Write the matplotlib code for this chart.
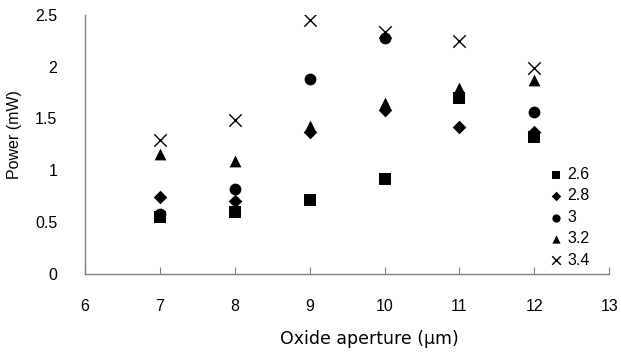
import matplotlib.pyplot as plt
import numpy as np

plt.rcParams['font.family'] = ['Liberation Sans', 'DejaVu Sans']

aperture = [7, 8, 9, 10, 11, 12]
labels = ['2.6', '2.8', '3', '3.2', '3.4']
p26 = [0.55, 0.60, 0.71, 0.92, 1.70, 1.32]
p28 = [0.74, 0.70, 1.37, 1.58, 1.42, 1.37]
p30 = [0.58, 0.82, 1.88, 2.28, np.nan, 1.56]
p32 = [1.16, 1.09, 1.43, 1.65, 1.79, 1.87]
p34 = [1.29, 1.49, 2.45, 2.33, 2.25, 1.99]

series = [p26, p28, p30, p32, p34]
markers = ['s', 'D', 'o', '^', 'x']
sizes = [72, 48, 72, 72, 80]

fig = plt.figure(figsize=(6.21, 3.53), dpi=100)
ax = fig.add_axes([0.137, 0.224, 0.844, 0.734])

for vals, m, s, lab in zip(series, markers, sizes, labels):
    if m == 'x':
        ax.scatter(aperture, vals, marker=m, s=s, color='black', linewidths=1.0, label=lab)
    else:
        ax.scatter(aperture, vals, marker=m, s=s, color='black', linewidths=0, label=lab)

ax.set_xlim(6, 13)
ax.set_ylim(0, 2.5)
ax.set_xticks(range(6, 14))
ax.set_yticks([0, 0.5, 1, 1.5, 2, 2.5])
ax.set_yticklabels(['0', '0.5', '1', '1.5', '2', '2.5'])

for s in ['top', 'right']:
    ax.spines[s].set_visible(False)
for s in ['left', 'bottom']:
    ax.spines[s].set_color('#808080')
    ax.spines[s].set_linewidth(1.0)

ax.tick_params(axis='x', direction='in', length=5, color='#808080', labelsize=11.5, pad=18)
ax.tick_params(axis='y', length=0, labelsize=11.5, pad=20)

ax.set_xlabel('Oxide aperture (μm)', fontsize=12.5, family='DejaVu Sans')
ax.set_ylabel('Power (mW)', fontsize=11.5)
ax.xaxis.set_label_coords(0.542, -0.215)
ax.yaxis.set_label_coords(-0.12, 0.537)

leg = ax.legend(loc='lower right', bbox_to_anchor=(0.975, 0.0), frameon=False,
                fontsize=11.5, handletextpad=-0.3, labelspacing=0.4,
                markerscale=0.7, borderaxespad=0)

fig.savefig('out.png', dpi=100)
